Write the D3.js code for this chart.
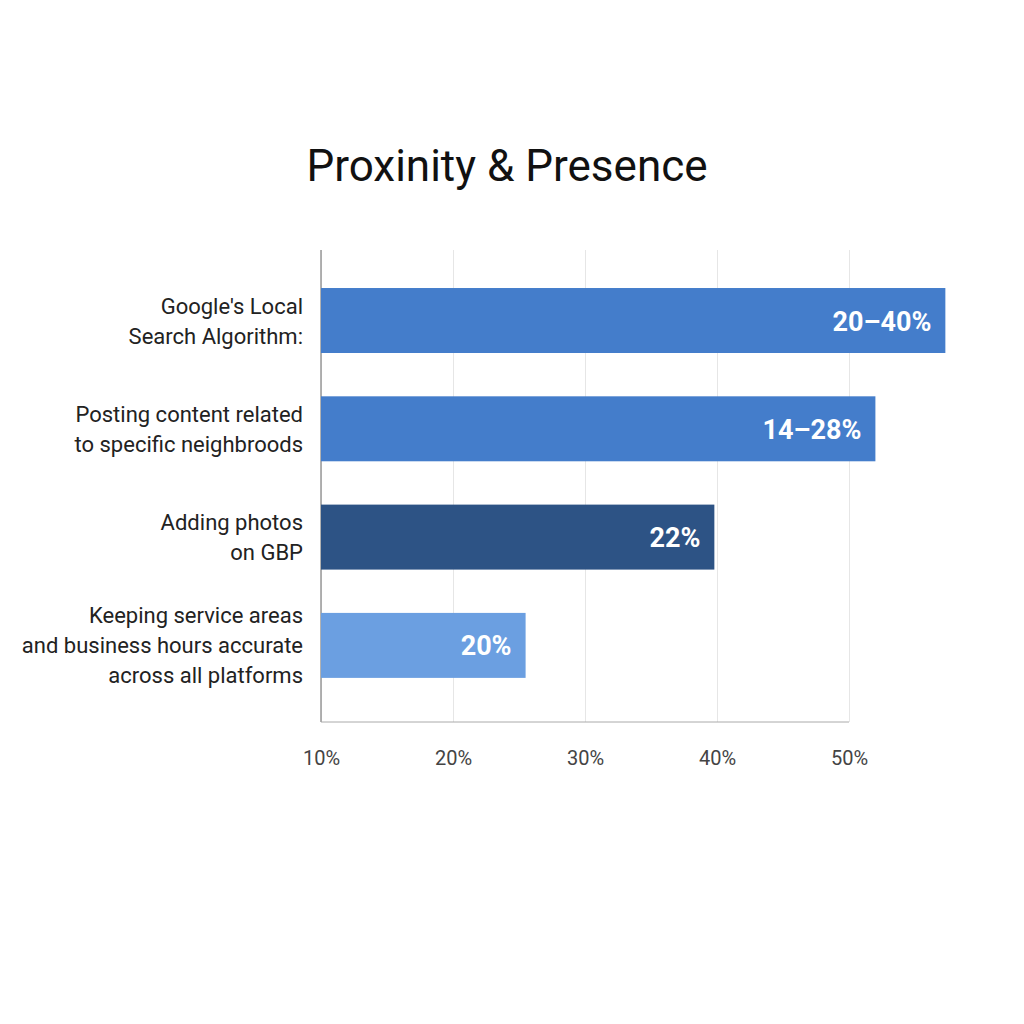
<!DOCTYPE html>
<html><head><meta charset="utf-8">
<script src="https://cdn.jsdelivr.net/npm/d3@7"></script>
<style>body{margin:0;background:#fff;font-family:Roboto,"Noto Sans",sans-serif}</style>
</head><body><div id="chart"></div>
<script>
var categories = [
  ["Google's Local", "Search Algorithm:"],
  ["Posting content related", "to specific neighbroods"],
  ["Adding photos", "on GBP"],
  ["Keeping service areas", "and business hours accurate", "across all platforms"]
];
var values = [57.3, 52.0, 39.8, 25.5];
var valueLabels = ["20\u201340%", "14\u201328%", "22%", "20%"];
var colors = ["#447dcb", "#447dcb", "#2d5385", "#6b9fe1"];
var ticks = [10, 20, 30, 40, 50];

var width = 1024, height = 1024;
var svg = d3.select("#chart").append("svg").attr("width", width).attr("height", height);

svg.append("text").attr("x", 507).attr("y", 181).attr("text-anchor", "middle")
  .attr("font-size", 44).attr("font-weight", 400).attr("fill", "#111")
  .text("Proxinity & Presence");

var x = d3.scaleLinear().domain([10, 50]).range([321, 849]);
var y = d3.scaleBand().domain(d3.range(categories.length)).range([244.7, 721.2]).paddingInner(0.4).paddingOuter(0.4);

var xAxis = d3.axisBottom(x).tickValues(ticks).tickFormat(function(d){ return d + "%"; })
  .tickSizeInner(-(722 - 250)).tickSizeOuter(0).tickPadding(29);
var ax = svg.append("g").attr("transform", "translate(0,722)").call(xAxis);
ax.select(".domain").remove();
ax.selectAll(".tick line").attr("stroke", "#e6e6e6");
ax.selectAll(".tick text").attr("font-size", 20).attr("fill", "#444").attr("font-family", "Roboto, sans-serif");

svg.append("line").attr("x1", 321).attr("x2", 321).attr("y1", 250).attr("y2", 722).attr("stroke", "#999").attr("stroke-width", 1.5);
svg.append("line").attr("x1", 321).attr("x2", 849).attr("y1", 722).attr("y2", 722).attr("stroke", "#aaa").attr("stroke-width", 1);

svg.selectAll("rect.bar").data(values).enter().append("rect").attr("class", "bar")
  .attr("x", x(10)).attr("y", function(d, i){ return y(i); })
  .attr("width", function(d){ return x(d) - x(10); })
  .attr("height", y.bandwidth()).attr("fill", function(d, i){ return colors[i]; });

svg.selectAll("text.val").data(values).enter().append("text").attr("class", "val")
  .attr("x", function(d){ return x(d) - 14; })
  .attr("y", function(d, i){ return y(i) + y.bandwidth() / 2 + 10; })
  .attr("text-anchor", "end").attr("font-size", 27).attr("font-weight", 700).attr("fill", "#fff")
  .text(function(d, i){ return valueLabels[i]; });

categories.forEach(function(lines, i){
  var cy = y(i) + y.bandwidth() / 2;
  var lh = 30;
  var t = svg.append("text").attr("text-anchor", "end").attr("font-size", 22).attr("fill", "#222");
  lines.forEach(function(l, j){
    t.append("tspan").attr("x", 303).attr("y", cy + (j - (lines.length - 1) / 2) * lh + 8).text(l);
  });
});
</script></body></html>
